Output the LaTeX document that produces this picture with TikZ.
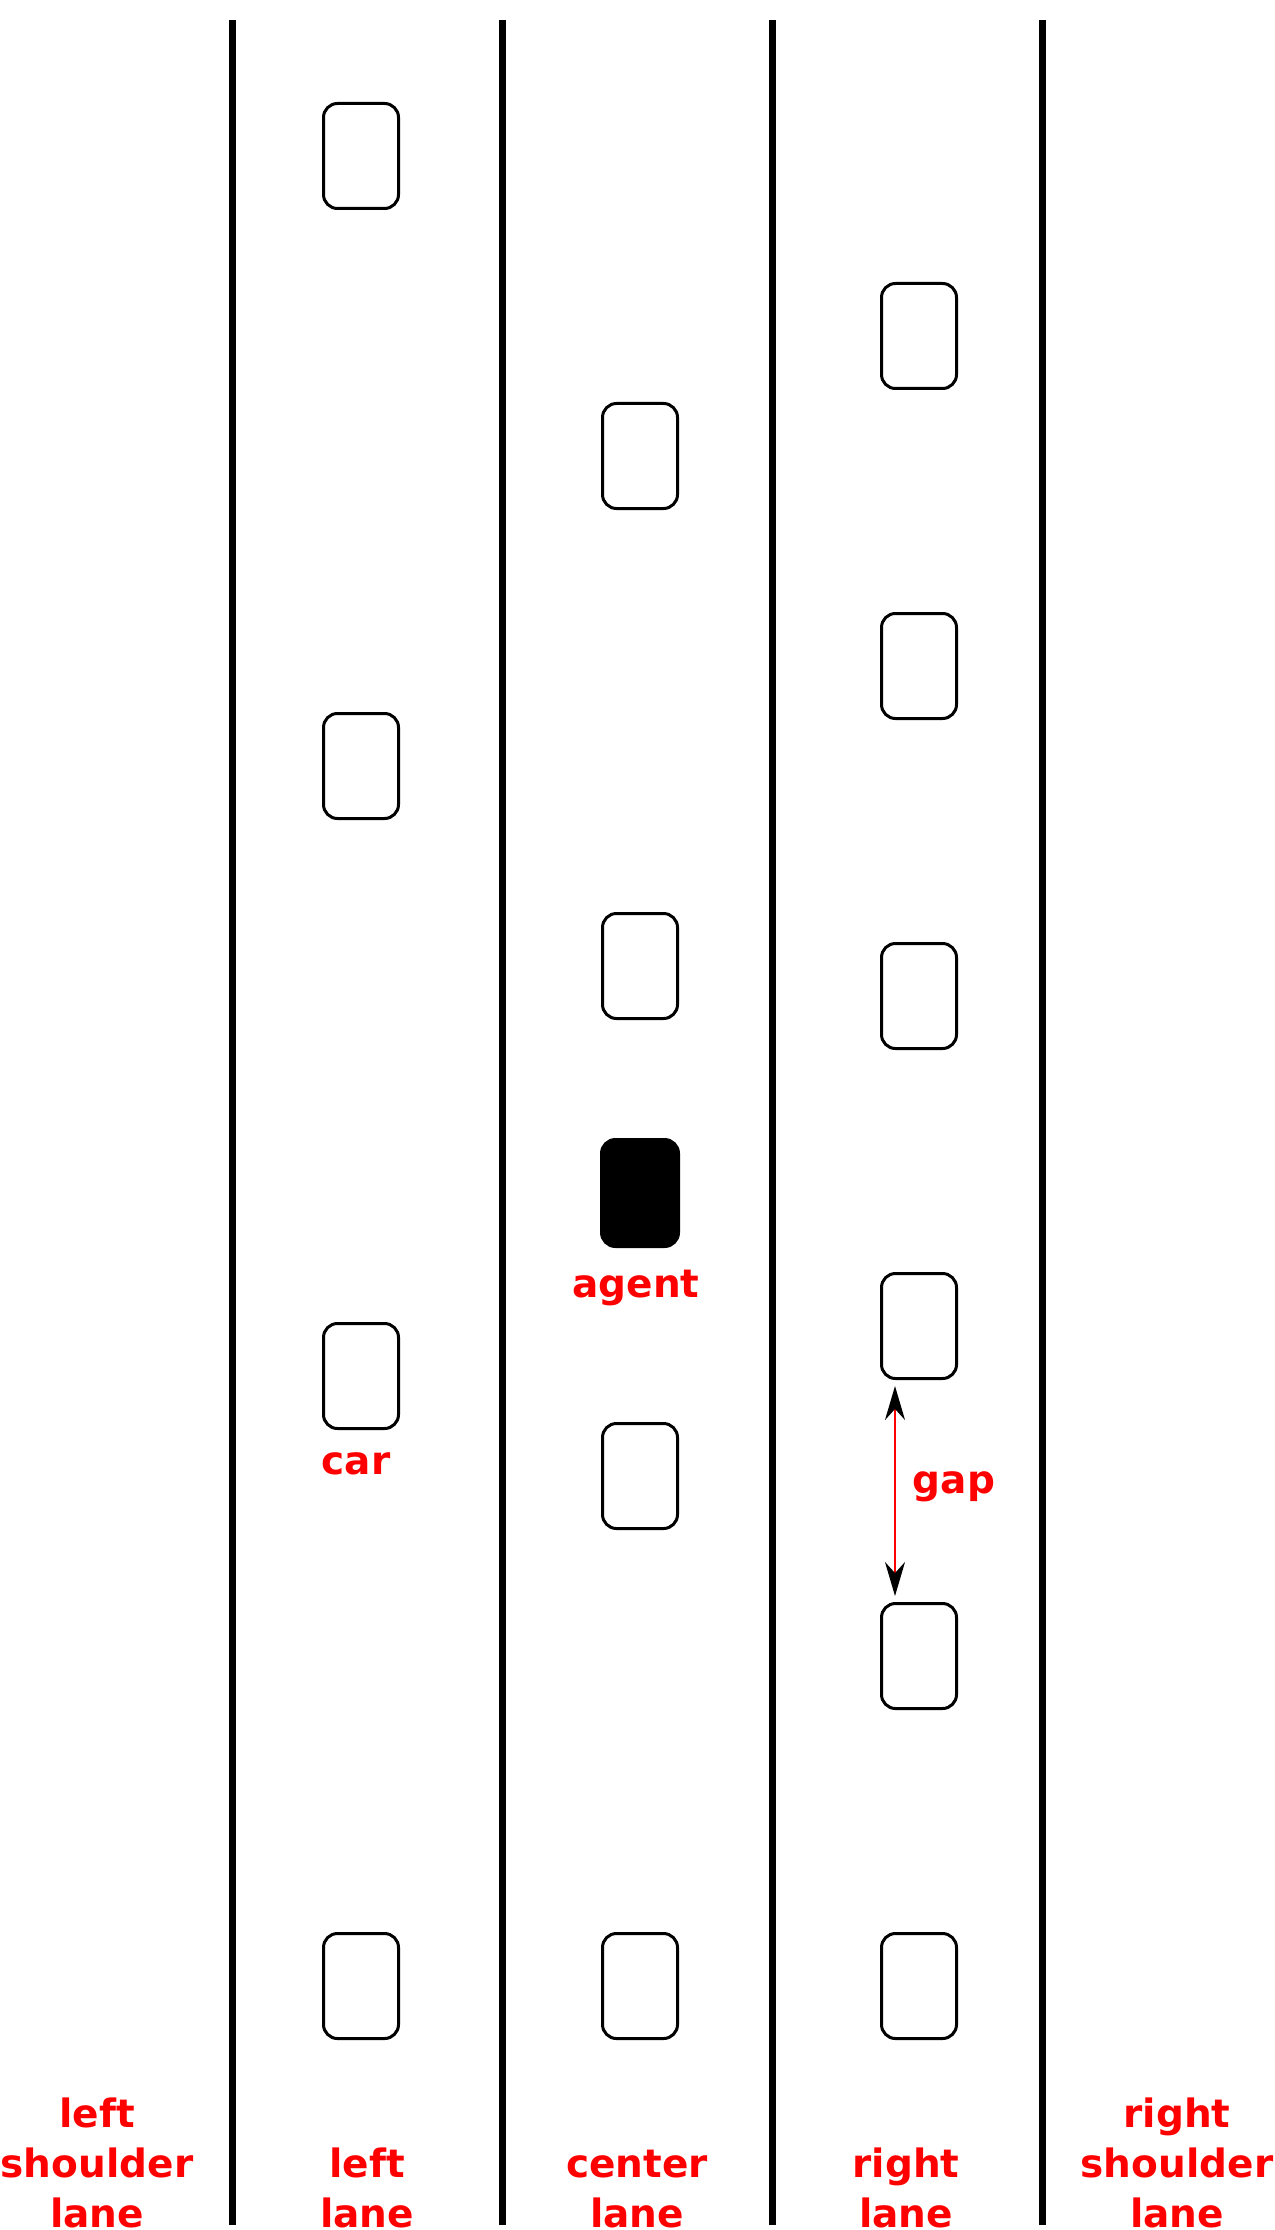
\documentclass[tikz,border=0pt]{standalone}
\usepackage{fontspec}
\setmainfont{DejaVu Sans}
\usetikzlibrary{arrows.meta,positioning}

\tikzset{
    laneline/.style={line width=3.5pt},
    car/.style={draw, line width=1.5pt, rounded corners=7pt, minimum width=37.5pt, minimum height=52.5pt, inner sep=0pt},
    agentcar/.style={car, fill=black, minimum width=38.5pt, minimum height=53.5pt},
    lbl/.style={text=red, font=\fontsize{19.5}{25}\selectfont\bfseries, inner sep=0pt},
    lanelbl/.style={lbl, align=center, text depth=0pt, anchor=south},
    gaparrow/.style={red, line width=1pt, {Stealth[black,length=17pt,width=10pt]}-{Stealth[black,length=17pt,width=10pt]}, shorten <=3pt, shorten >=3pt}
}

\begin{document}
\begin{tikzpicture}[x=0.5pt,y=-0.5pt]
        \useasboundingbox (0,0) rectangle (1274,2230);
        % lane markings
        \draw[laneline] (232,20) -- (232,2225);
        \draw[laneline] (502,20) -- (502,2225);
        \draw[laneline] (772,20) -- (772,2225);
        \draw[laneline] (1042,20) -- (1042,2225);
        % left lane
        \node[car] (carl1) at (361,156) {};
        \node[car] (carl2) at (361,766) {};
        \node[car] (carl3) at (361,1376) {};
        \node[car] (carl4) at (361,1986) {};
        % center lane
        \node[car] (carc1) at (640,456) {};
        \node[car] (carc2) at (640,966) {};
        \node[agentcar] (agent) at (640,1193) {};
        \node[car] (carc3) at (640,1476) {};
        \node[car] (carc4) at (640,1986) {};
        % right lane
        \node[car] (carr1) at (919,336) {};
        \node[car] (carr2) at (919,666) {};
        \node[car] (carr3) at (919,996) {};
        \node[car] (carr4) at (919,1326) {};
        \node[car] (carr5) at (919,1656) {};
        \node[car] (carr6) at (919,1986) {};
        % labels
        \node[lbl, anchor=base] (agentlbl) at (636,1297) {agent};
        \node[lbl, anchor=base] (carlbl) at (356,1474) {car};
        \draw[gaparrow] ([xshift=-12pt]carr4.south) -- ([xshift=-12pt]carr5.north);
        \node[lbl, anchor=base] (gaplbl) at (954,1493) {gap};
        \node[lanelbl] (lshoulder) at (97,2228) {left\\shoulder\\lane};
        \node[lanelbl] (llane) at (367,2228) {left\\lane};
        \node[lanelbl] (clane) at (637,2228) {center\\lane};
        \node[lanelbl] (rlane) at (906,2228) {right\\lane};
        \node[lanelbl] (rshoulder) at (1177,2228) {right\\shoulder\\lane};
\end{tikzpicture}
\end{document}
